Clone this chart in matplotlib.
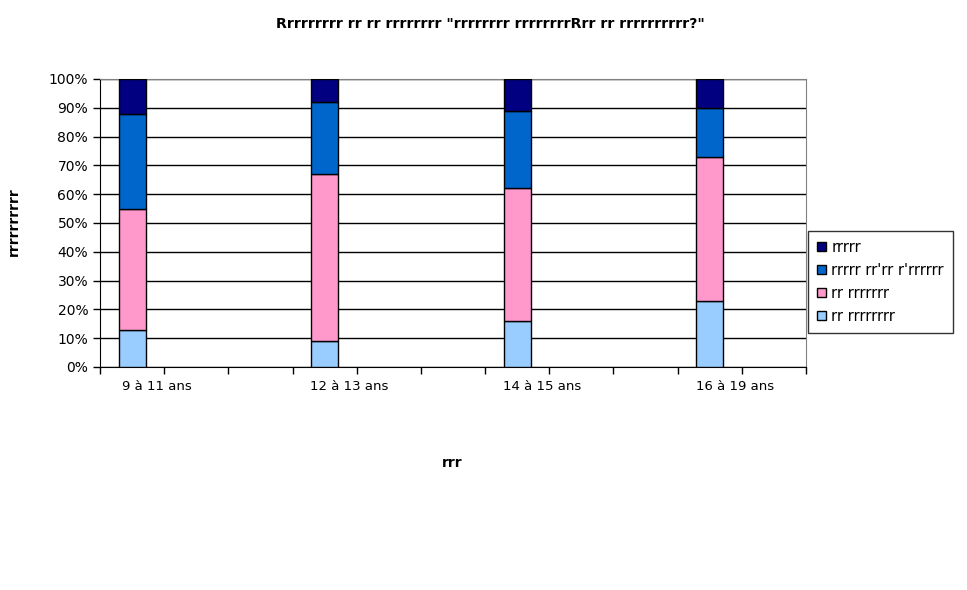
import matplotlib
matplotlib.use("Agg")
import matplotlib.pyplot as plt
import numpy as np

# data (percent)
groups = ["9 à 11 ans", "12 à 13 ans", "14 à 15 ans", "16 à 19 ans"]
series_names = ["rr rrrrrrrr", "rr rrrrrrr", "rrrrr rr'rr r'rrrrrr", "rrrrr"]
s1 = [13, 9, 16, 23]
s2 = [42, 58, 46, 50]
s3 = [33, 25, 27, 17]
s4 = [12, 8, 11, 10]
colors = ["#99CCFF", "#FF99CC", "#0066CC", "#000080"]

title = 'Rrrrrrrrr rr rr rrrrrrrr "rrrrrrrr rrrrrrrrRrr rr rrrrrrrrrr?"'
xlabel = "rrr"
ylabel = "rrrrrrrrrr"

fig = plt.figure(figsize=(9.67, 5.9), dpi=100)
ax = fig.add_axes([100/967, 1-367/590, 706/967, 288/590])

slots = np.array([0, 3, 6, 9]) + 0.5
bottom = np.zeros(len(groups))
bars = []
for vals, name, c in zip([s1, s2, s3, s4], series_names, colors):
    b = ax.bar(slots, vals, width=0.42, bottom=bottom, color=c,
               edgecolor="black", linewidth=1, label=name, zorder=3)
    bars.append(b)
    bottom += np.array(vals)

ax.set_xlim(0, 11)
ax.set_ylim(0, 100)
ax.set_yticks(range(0, 101, 10))
ax.set_yticklabels([f"{v}%" for v in range(0, 101, 10)], fontsize=10)
ax.yaxis.grid(True, color="black", linewidth=1, zorder=0)
ax.set_axisbelow(True)
ax.set_xticks(range(0, 12))
ax.set_xticklabels([])
ax.tick_params(axis="both", direction="out", length=5, width=1, color="black")
for x, g in zip(np.array([0, 3, 6, 9]) + 0.89, groups):
    ax.text(x, -0.045, g, transform=ax.get_xaxis_transform(), ha="center",
            va="top", fontsize=9.5)

ax.spines["top"].set_color("#808080")
ax.spines["right"].set_color("#808080")
ax.spines["left"].set_color("black")
ax.spines["bottom"].set_color("black")

fig.text(490/967, 1-24/590, title, ha="center", va="center",
         fontsize=10.2, fontweight="bold")
fig.text(452/967, 1-463/590, xlabel, ha="center", va="center",
         fontsize=10, fontweight="bold")
fig.text(14/967, 1-222/590, ylabel, ha="center", va="center",
         rotation=90, fontsize=10, fontweight="bold")

handles = bars[::-1]
labels = series_names[::-1]
leg = fig.legend(handles, labels, loc="upper left",
                 bbox_to_anchor=(808/967, 1-231/590), fontsize=10.5,
                 frameon=True, fancybox=False, edgecolor="black",
                 handlelength=0.6, handleheight=0.6, handletextpad=0.4,
                 borderpad=0.6, labelspacing=0.55, borderaxespad=0)
leg.get_frame().set_linewidth(1)

fig.savefig("out.png", dpi=100)
